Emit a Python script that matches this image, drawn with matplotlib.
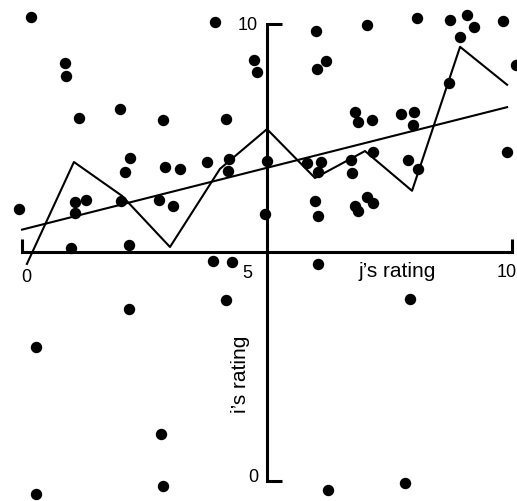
import matplotlib
matplotlib.use("Agg")
import matplotlib.pyplot as plt

plt.rcParams['font.family'] = ['Liberation Sans', 'DejaVu Sans']

# scattered ratings (j's rating, i's rating)
pts_j = [0.18, 3.94, 0.88, 0.90, 4.73, 4.80, 1.16, 2.00, 2.88, 4.16,
         2.20, 2.10, 2.92, 3.22, 3.78, 4.22, 4.20, -0.06, 1.08, 1.31,
         1.08, 2.02, 2.80, 3.08, 1.00, 2.18,
         6.00, 7.04, 8.06, 8.73, 9.08, 9.22, 8.94, 9.82, 6.20, 6.02,
         10.08, 8.71, 6.80, 6.86, 7.14, 7.73, 8.00, 7.98, 5.00, 5.82,
         6.10, 6.04, 6.71, 6.73, 7.16, 7.88, 8.08, 9.90, 4.96, 5.98,
         6.04, 6.80, 6.86, 7.04, 7.16,
         3.90, 4.29, 4.16, 2.18, 0.29, 2.84, 0.29, 2.88, 6.04, 7.92,
         6.24, 7.82]
pts_i = [10.15, 10.04, 9.15, 8.86, 9.21, 8.95, 7.94, 8.14, 7.90, 7.92,
         7.07, 6.76, 6.87, 6.83, 6.98, 7.05, 6.78, 5.95, 6.11, 6.15,
         5.86, 6.13, 6.15, 6.02, 5.10, 5.16,
         9.85, 9.98, 10.13, 10.09, 10.20, 9.93, 9.72, 10.07, 9.19, 9.02,
         9.10, 8.71, 8.07, 7.86, 7.90, 8.03, 8.07, 7.79, 7.00, 6.96,
         6.98, 6.76, 7.02, 6.74, 7.20, 7.02, 6.83, 7.20, 5.84, 6.13,
         5.80, 6.02, 5.91, 6.21, 6.08,
         4.81, 4.79, 3.96, 3.76, 2.93, 1.03, -0.28, -0.11, 4.75, 3.98,
         -0.20, -0.04]

# zigzag (mean rating per j value)
zig_j = [0.1, 1.06, 2.04, 3.02, 4.04, 5.0, 5.98, 7.0, 7.96, 8.94, 9.9]
zig_i = [4.75, 6.98, 6.24, 5.12, 6.83, 7.70, 6.63, 7.22, 6.35, 9.50, 8.67]

# straight fit line
fit_j = [0.0, 9.9]
fit_i = [5.5, 8.18]

fig = plt.figure(figsize=(5.17, 5.02), dpi=100)
ax = fig.add_axes([0, 0, 1, 1])
ax.set_xlim(-0.449, 10.102)
ax.set_ylim(-0.438, 10.547)
ax.axis('off')

# axes drawn by hand, crossing at (5, 5)
ax.plot([0, 0, 10, 10], [5.3, 5, 5, 5.3], color='black', lw=2.2,
        solid_joinstyle='miter', solid_capstyle='butt')
ax.plot([5.3, 5, 5, 5.3], [10, 10, 0, 0], color='black', lw=2.2,
        solid_joinstyle='miter', solid_capstyle='butt')

ax.plot(fit_j, fit_i, color='black', lw=1.5)
ax.plot(zig_j, zig_i, color='black', lw=1.5)
ax.plot(pts_j, pts_i, 'o', color='black', markersize=7.2, zorder=5)

fs = 13
lfs = 15
ax.text(0.08, 4.38, '0', ha='center', va='baseline', fontsize=fs)
ax.text(4.59, 4.46, '5', ha='center', va='baseline', fontsize=fs)
ax.text(9.9, 4.49, '10', ha='center', va='baseline', fontsize=fs)
ax.text(7.65, 4.49, 'j’s rating', ha='center', va='baseline', fontsize=lfs)
ax.text(4.82, 9.89, '10', ha='right', va='baseline', fontsize=fs)
ax.text(4.82, 0.0, '0', ha='right', va='baseline', fontsize=fs)
ax.text(4.45, 2.35, 'i’s rating', ha='center', va='center', rotation=90,
        fontsize=lfs)

fig.savefig('out.png', dpi=100)
